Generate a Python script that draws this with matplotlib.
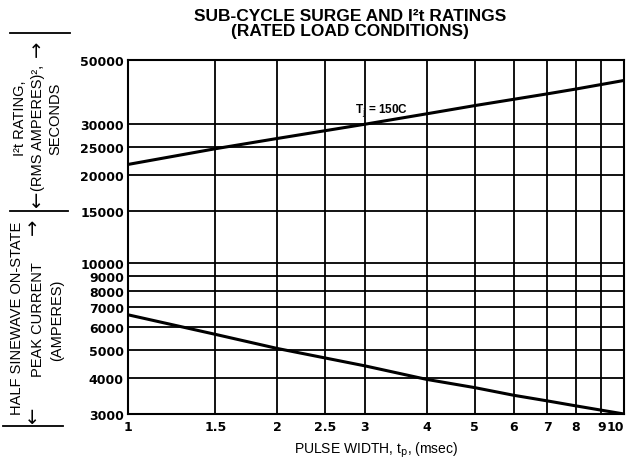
import matplotlib
matplotlib.use("Agg")
import matplotlib.pyplot as plt
from matplotlib.lines import Line2D
from matplotlib.ticker import FixedLocator, NullLocator

plt.rcParams['font.family'] = ['Liberation Sans', 'DejaVu Sans']

# ---- data ----
pulse_width = [1, 1.5, 2, 3, 4, 5, 6, 7, 8, 10]
i2t_rating = [21800, 24700, 26800, 30000, 32600, 34800, 36600, 38200, 39700, 42500]
peak_current = [6600, 5650, 5050, 4400, 3950, 3700, 3480, 3330, 3200, 3000]

x_ticks = [1, 1.5, 2, 2.5, 3, 4, 5, 6, 7, 8, 9, 10]
x_tick_labels = ['1', '1.5', '2', '2.5', '3', '4', '5', '6', '7', '8', '9', '10']
y_ticks = [3000, 4000, 5000, 6000, 7000, 8000, 9000, 10000, 15000, 20000, 25000, 30000, 50000]
y_tick_labels = ['3000', '4000', '5000', '6000', '7000', '8000', '9000', '10000',
                 '15000', '20000', '25000', '30000', '50000']

title = "SUB-CYCLE SURGE AND I\u00b2t RATINGS\n(RATED LOAD CONDITIONS)"
xlabel = "PULSE WIDTH, t$_{\\rm p}$, (msec)"
curve_label = "T$_{\\rm j}$ = 150C"

W, H = 626, 464
fig = plt.figure(figsize=(W / 100, H / 100), dpi=100)
ax = fig.add_axes([128 / W, 1 - 415 / H, (624 - 128) / W, (415 - 61) / H])

ax.set_xscale('log')
ax.set_yscale('log')
ax.set_xlim(1, 10)
ax.set_ylim(3000, 50000)

# grid lines
for xv in x_ticks:
    ax.axvline(xv, color='black', lw=1.3, zorder=1)
for yv in y_ticks:
    ax.axhline(yv, color='black', lw=1.3, zorder=1)

ax.plot(pulse_width, i2t_rating, color='black', lw=2.2, zorder=3)
ax.plot(pulse_width, peak_current, color='black', lw=2.2, zorder=3)
ax.text(3.25, 33800, curve_label, ha='center', va='center', fontsize=8.5,
        fontweight='bold', zorder=4)

ax.xaxis.set_major_locator(FixedLocator(x_ticks))
ax.xaxis.set_minor_locator(NullLocator())
ax.set_xticklabels(x_tick_labels)
ax.yaxis.set_major_locator(FixedLocator(y_ticks))
ax.yaxis.set_minor_locator(NullLocator())
ax.set_yticklabels(y_tick_labels)
ax.tick_params(axis='both', length=0, labelsize=9)
ax.tick_params(axis='x', pad=4)
ax.tick_params(axis='y', pad=3)
for lab in ax.get_xticklabels() + ax.get_yticklabels():
    lab.set_family(['DejaVu Sans'])
    lab.set_fontweight('bold')
ax.get_xticklabels()[-1].set_ha('right')
for sp in ax.spines.values():
    sp.set_linewidth(1.5)

ax.set_xlabel(xlabel, fontsize=10, labelpad=5)

fig.text(350 / W, 1 - 24 / H, title, ha='center', va='center', fontsize=12.5,
         fontweight='bold', linespacing=1.0)

# left side labels
def ftxt(x, y, s, fs=10.5, **kw):
    fig.text(x / W, 1 - y / H, s, ha='center', va='center', rotation=90,
             fontsize=fs, **kw)

ftxt(20, 118, "I\u00b2t RATING,")
ftxt(38, 128, "(RMS AMPERES)\u00b2,")
ftxt(55, 119, "SECONDS")
ftxt(37, 49, "\u2192", fs=14, family=['DejaVu Sans'])
ftxt(37, 200, "\u2190", fs=14, family=['DejaVu Sans'])

ftxt(17, 318, "HALF SINEWAVE ON-STATE")
ftxt(38, 320, "PEAK CURRENT")
ftxt(57, 320, "(AMPERES)")
ftxt(33, 227, "\u2192", fs=14, family=['DejaVu Sans'])
ftxt(33, 416, "\u2190", fs=14, family=['DejaVu Sans'])

for (x0, x1, y) in [(10, 70, 34), (10, 68, 212), (3, 63, 427)]:
    fig.add_artist(Line2D([x0 / W, x1 / W], [1 - y / H, 1 - y / H],
                          transform=fig.transFigure, color='black', lw=1.3))

fig.savefig('out.png', dpi=100)
